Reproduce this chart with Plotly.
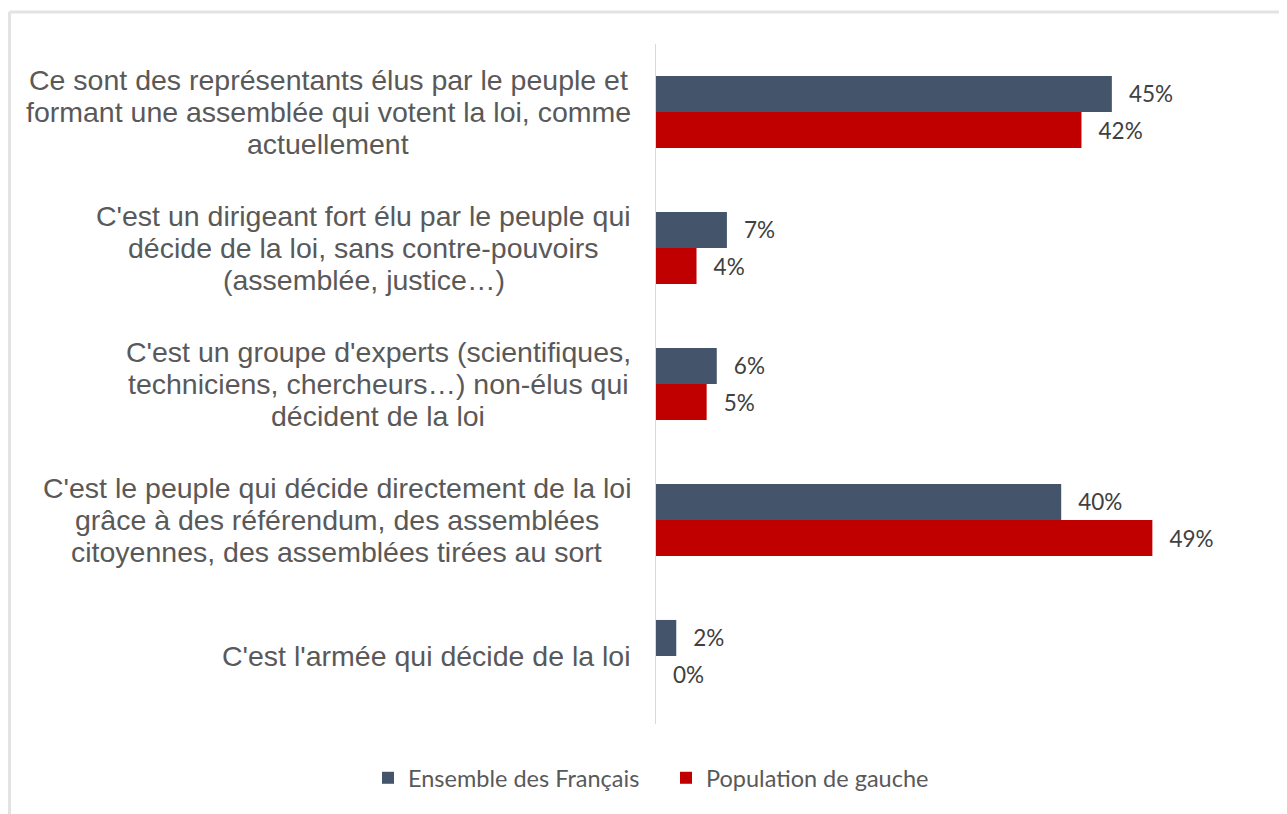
import plotly.graph_objects as go

categories = [
    "Ce sont des représentants élus par le peuple et<br>formant une assemblée qui votent la loi, comme<br>actuellement",
    "C'est un dirigeant fort élu par le peuple qui<br>décide de la loi, sans contre-pouvoirs<br>(assemblée, justice…)",
    "C'est un groupe d'experts (scientifiques,<br>techniciens, chercheurs…) non-élus qui<br>décident de la loi",
    "C'est le peuple qui décide directement de la loi<br>grâce à des référendum, des assemblées<br>citoyennes, des assemblées tirées au sort",
    "C'est l'armée qui décide de la loi",
]
series_names = ["Ensemble des Français", "Population de gauche"]
ensemble = [45, 7, 6, 40, 2]
gauche = [42, 4, 5, 49, 0]
colors = ["#44546a", "#c00000"]

# page has an 8px body margin; figure coords = page coords - 8
OFF = 8
W, H = 1279, 806
L, R, T, B = 648, 27, 36, 90
pw, ph = W - L - R, H - T - B
px_per_unit = 10.13
xmax = pw / px_per_unit

LABEL_SIZE = 28.5
LINE_H = 32
RIGHT_EDGE = 631  # page px where the widest label line ends

# Arial / Liberation Sans advance widths (per 1000 em)
AW = {" ": 278, "'": 191, "(": 333, ")": 333, ",": 278, "-": 333, ".": 278, "…": 1000,
      "a": 556, "b": 556, "c": 500, "d": 556, "e": 556, "f": 278, "g": 556, "h": 556, "i": 222,
      "j": 222, "k": 500, "l": 222, "m": 833, "n": 556, "o": 556, "p": 556, "q": 556, "r": 333,
      "s": 500, "t": 278, "u": 556, "v": 500, "w": 722, "x": 500, "y": 500, "z": 500,
      "C": 722, "é": 556, "è": 556, "à": 556, "â": 556, "ç": 500}

def text_w(s, size):
    return sum(AW.get(ch, 556) for ch in s) * size / 1000.0

ykeys = [f"c{i}" for i in range(len(categories))]

fig = go.Figure()
for name, vals, col in zip(series_names, [ensemble, gauche], colors):
    fig.add_trace(go.Bar(
        y=ykeys, x=vals, name=name, orientation="h",
        marker=dict(color=col, line=dict(width=0)),
        text=[f"{v}%" for v in vals],
        texttemplate="\u2002\u2009%{text}",
        textposition="outside", cliponaxis=False, constraintext="none",
        textfont=dict(family="Lato", size=22.5, color="#404040"),
        hoverinfo="skip",
    ))

def xp(px):
    return (px - OFF - L) / pw

def yp(py):
    return (H - B - (py - OFF)) / ph

annotations = []
for k, c in zip(ykeys, categories):
    lines = c.split("<br>")
    n = len(lines)
    wmax = max(text_w(l, LABEL_SIZE) for l in lines)
    center = RIGHT_EDGE - wmax / 2
    for i, line in enumerate(lines):
        annotations.append(dict(
            x=xp(center), xref="paper", y=k, yref="y", text=line, showarrow=False,
            xanchor="center", yanchor="middle", align="center",
            yshift=((n - 1) / 2 - i) * LINE_H,
            font=dict(family="Liberation Sans", size=LABEL_SIZE, color="#595959"),
        ))

shapes = [
    dict(type="line", xref="paper", yref="paper", x0=xp(9.5), x1=xp(W + 20), y0=yp(12), y1=yp(12),
         line=dict(color="#e3e3e3", width=3)),
    dict(type="line", xref="paper", yref="paper", x0=xp(9.5), x1=xp(9.5), y0=yp(12), y1=yp(H + 20),
         line=dict(color="#e3e3e3", width=3)),
]

fig.update_layout(
    width=W, height=H,
    margin=dict(l=L, r=R, t=T, b=B),
    paper_bgcolor="white", plot_bgcolor="white",
    barmode="group", bargap=0.47, bargroupgap=0,
    xaxis=dict(range=[0, xmax], showgrid=False, zeroline=False, showticklabels=False, showline=False),
    yaxis=dict(autorange="reversed", showgrid=False, zeroline=False, showticklabels=False,
               showline=True, linecolor="#d9d9d9", linewidth=1, ticks=""),
    legend=dict(orientation="h", x=xp(666), xanchor="center", y=yp(778), yanchor="middle",
                font=dict(family="Lato", size=23.5, color="#595959"),
                entrywidth=253, entrywidthmode="pixels",
                traceorder="normal", bgcolor="rgba(0,0,0,0)"),
    annotations=annotations, shapes=shapes,
    showlegend=True,
)

fig.write_html("out.html")
